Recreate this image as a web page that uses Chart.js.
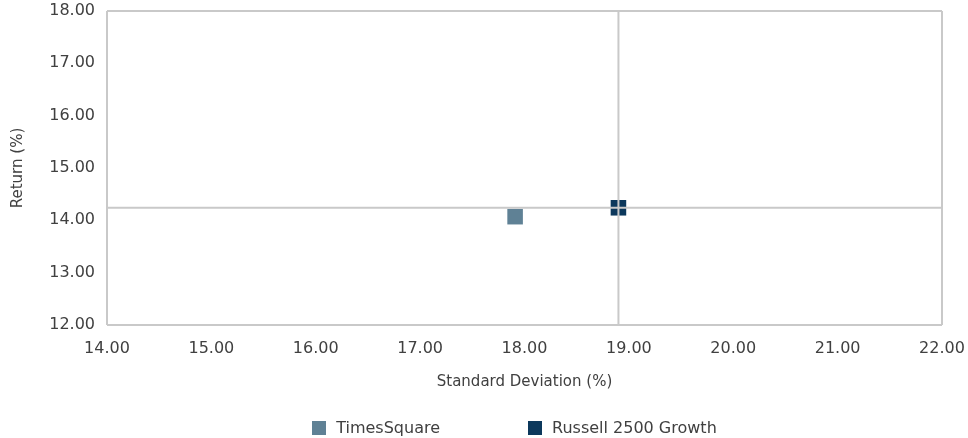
<!DOCTYPE html>
<html>
<head>
<meta charset="utf-8">
<script src="https://cdn.jsdelivr.net/npm/chart.js@4.4.1/dist/chart.umd.min.js"></script>
<style>
  html, body { margin: 0; padding: 0; background: #fff; }
  #wrap { width: 968px; height: 438px; position: relative; }
  #legend {
    position: absolute; left: 97px; width: 835px; top: 418px;
    display: flex; justify-content: center; gap: 88px;
    font: 16px "DejaVu Sans", sans-serif; color: #404040;
  }
  #legend span.item { display: flex; align-items: center; }
  #legend span.box { width: 14px; height: 14px; margin-right: 10px; display: inline-block; }
</style>
</head>
<body>
<div id="wrap"><canvas id="riskChart"></canvas><div id="legend"></div></div>
<script>
// risk / return values
const seriesNames = ['TimesSquare', 'Russell 2500 Growth'];
const stdDev = [17.91, 18.90];
const returns = [14.07, 14.24];
const xRange = [14, 22];
const yRange = [12, 18];

const pointColors = ['#5f8195', '#0c385c'];
const lineGray = '#c9c9c9';
const textGray = '#404040';
const fontFamily = '"DejaVu Sans", sans-serif';

// benchmark is the last series; crosshair goes through it
const bx = stdDev[1];
const by = returns[1];

const datasets = seriesNames.map((name, i) => ({
    label: name,
    data: [{ x: stdDev[i], y: returns[i] }],
    backgroundColor: pointColors[i],
    borderColor: pointColors[i],
    borderWidth: 0,
    pointStyle: 'rect',
    pointRadius: 11,
    pointHoverRadius: 11,
    order: 2
}));

datasets.push({
    label: 'hline',
    data: [{ x: xRange[0], y: by }, { x: xRange[1], y: by }],
    showLine: true,
    borderColor: lineGray,
    borderWidth: 2,
    pointRadius: 0,
    order: 1
});
datasets.push({
    label: 'vline',
    data: [{ x: bx, y: yRange[0] }, { x: bx, y: yRange[1] }],
    showLine: true,
    borderColor: lineGray,
    borderWidth: 2,
    pointRadius: 0,
    order: 1
});

const edgeColor = (lo, hi) => (c) => (c.tick && (c.tick.value === lo || c.tick.value === hi)) ? lineGray : 'rgba(0,0,0,0)';

const ctx = document.getElementById('riskChart').getContext('2d');
const riskChart = new Chart(ctx, {
    type: 'scatter',
    data: { datasets: datasets },
    options: {
        responsive: true,
        maintainAspectRatio: false,
        animation: false,
        layout: { padding: { left: 0, right: 26, top: 10, bottom: 43 } },
        plugins: {
            tooltip: { enabled: false },
            legend: { display: false }
        },
        scales: {
            x: {
                type: 'linear',
                min: xRange[0],
                max: xRange[1],
                border: { display: false },
                grid: { color: edgeColor(xRange[0], xRange[1]), lineWidth: 2, drawTicks: false },
                ticks: {
                    stepSize: 1,
                    padding: 14,
                    color: textGray,
                    font: { family: fontFamily, size: 16 },
                    callback: (v) => v.toFixed(2)
                },
                title: {
                    display: true,
                    text: 'Standard Deviation (%)',
                    color: textGray,
                    font: { family: fontFamily, size: 15 },
                    padding: { top: 0, bottom: 4 }
                },
                afterFit: (s) => { s.height = 70; s.paddingLeft = 0; s.paddingRight = 0; }
            },
            y: {
                type: 'linear',
                min: yRange[0],
                max: yRange[1],
                border: { display: false },
                grid: { color: edgeColor(yRange[0], yRange[1]), lineWidth: 2, drawTicks: false },
                ticks: {
                    stepSize: 1,
                    padding: 12,
                    color: textGray,
                    font: { family: fontFamily, size: 16 },
                    callback: (v) => v.toFixed(2)
                },
                title: {
                    display: true,
                    text: 'Return (%)',
                    color: textGray,
                    font: { family: fontFamily, size: 15 },
                    padding: { top: 9, bottom: 0 }
                },
                afterFit: (s) => { s.width = 107; s.paddingTop = 0; s.paddingBottom = 0; }
            }
        }
    }
});

// simple legend under the plot
const legendEl = document.getElementById('legend');
seriesNames.forEach((name, i) => {
    const item = document.createElement('span');
    item.className = 'item';
    const box = document.createElement('span');
    box.className = 'box';
    box.style.background = pointColors[i];
    item.appendChild(box);
    item.appendChild(document.createTextNode(name));
    legendEl.appendChild(item);
});
</script>
</body>
</html>
